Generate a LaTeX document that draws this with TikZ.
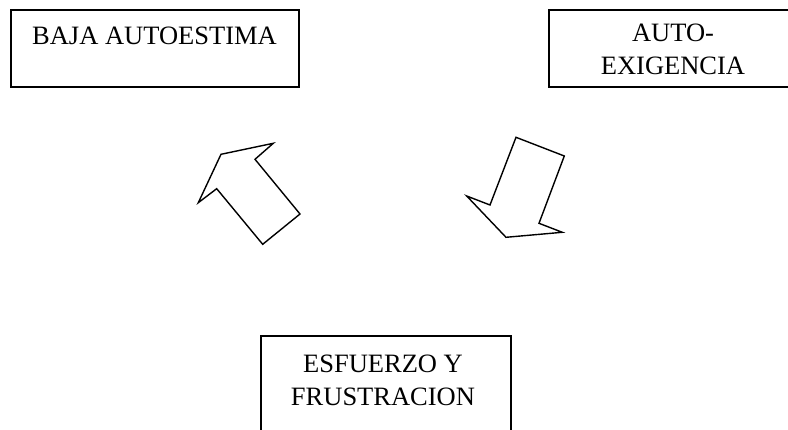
\documentclass[tikz,border=0pt]{standalone}
\usepackage{fontspec}
\setmainfont{Liberation Serif}
\begin{document}
\begin{tikzpicture}[x=1pt,y=-1pt,
  box/.style={draw=black,line width=1.6pt,inner sep=0pt,fill=none},
  txt/.style={inner sep=0pt,align=center,font=\fontsize{26.5pt}{33pt}\selectfont},
  bigarrow/.style={draw=black,line width=1.4pt,line join=miter}]
\useasboundingbox (0,0) rectangle (788,430);
\clip (0,0) rectangle (788,430);
% boxes
\draw[box] (11,10) rectangle (299,87) coordinate (b1);
\draw[box] (549,10) rectangle (798,87) coordinate (b2);
\draw[box] (261,336) rectangle (511,445) coordinate (b3);
% texts
\node[txt,anchor=base] (t1) at (154.5,45) {BAJA AUTOESTIMA};
\node[txt,anchor=north] (t2) at (673,24) {AUTO-\\EXIGENCIA};
\node[txt,anchor=north] (t3) at (383,355) {ESFUERZO Y\\FRUSTRACION};
% block arrows
\draw[bigarrow] (273.3,143.3) -- (221,154.3) -- (198.3,202.7) -- (216.7,188.7)
  -- (262.7,244.3) -- (300,214) -- (255,159.3) -- cycle;
\draw[bigarrow] (516,137.3) -- (564.3,156) -- (539,223.3) -- (562.3,232.3)
  -- (506,237.3) -- (466.7,196) -- (490,205) -- cycle;
\end{tikzpicture}
\end{document}
